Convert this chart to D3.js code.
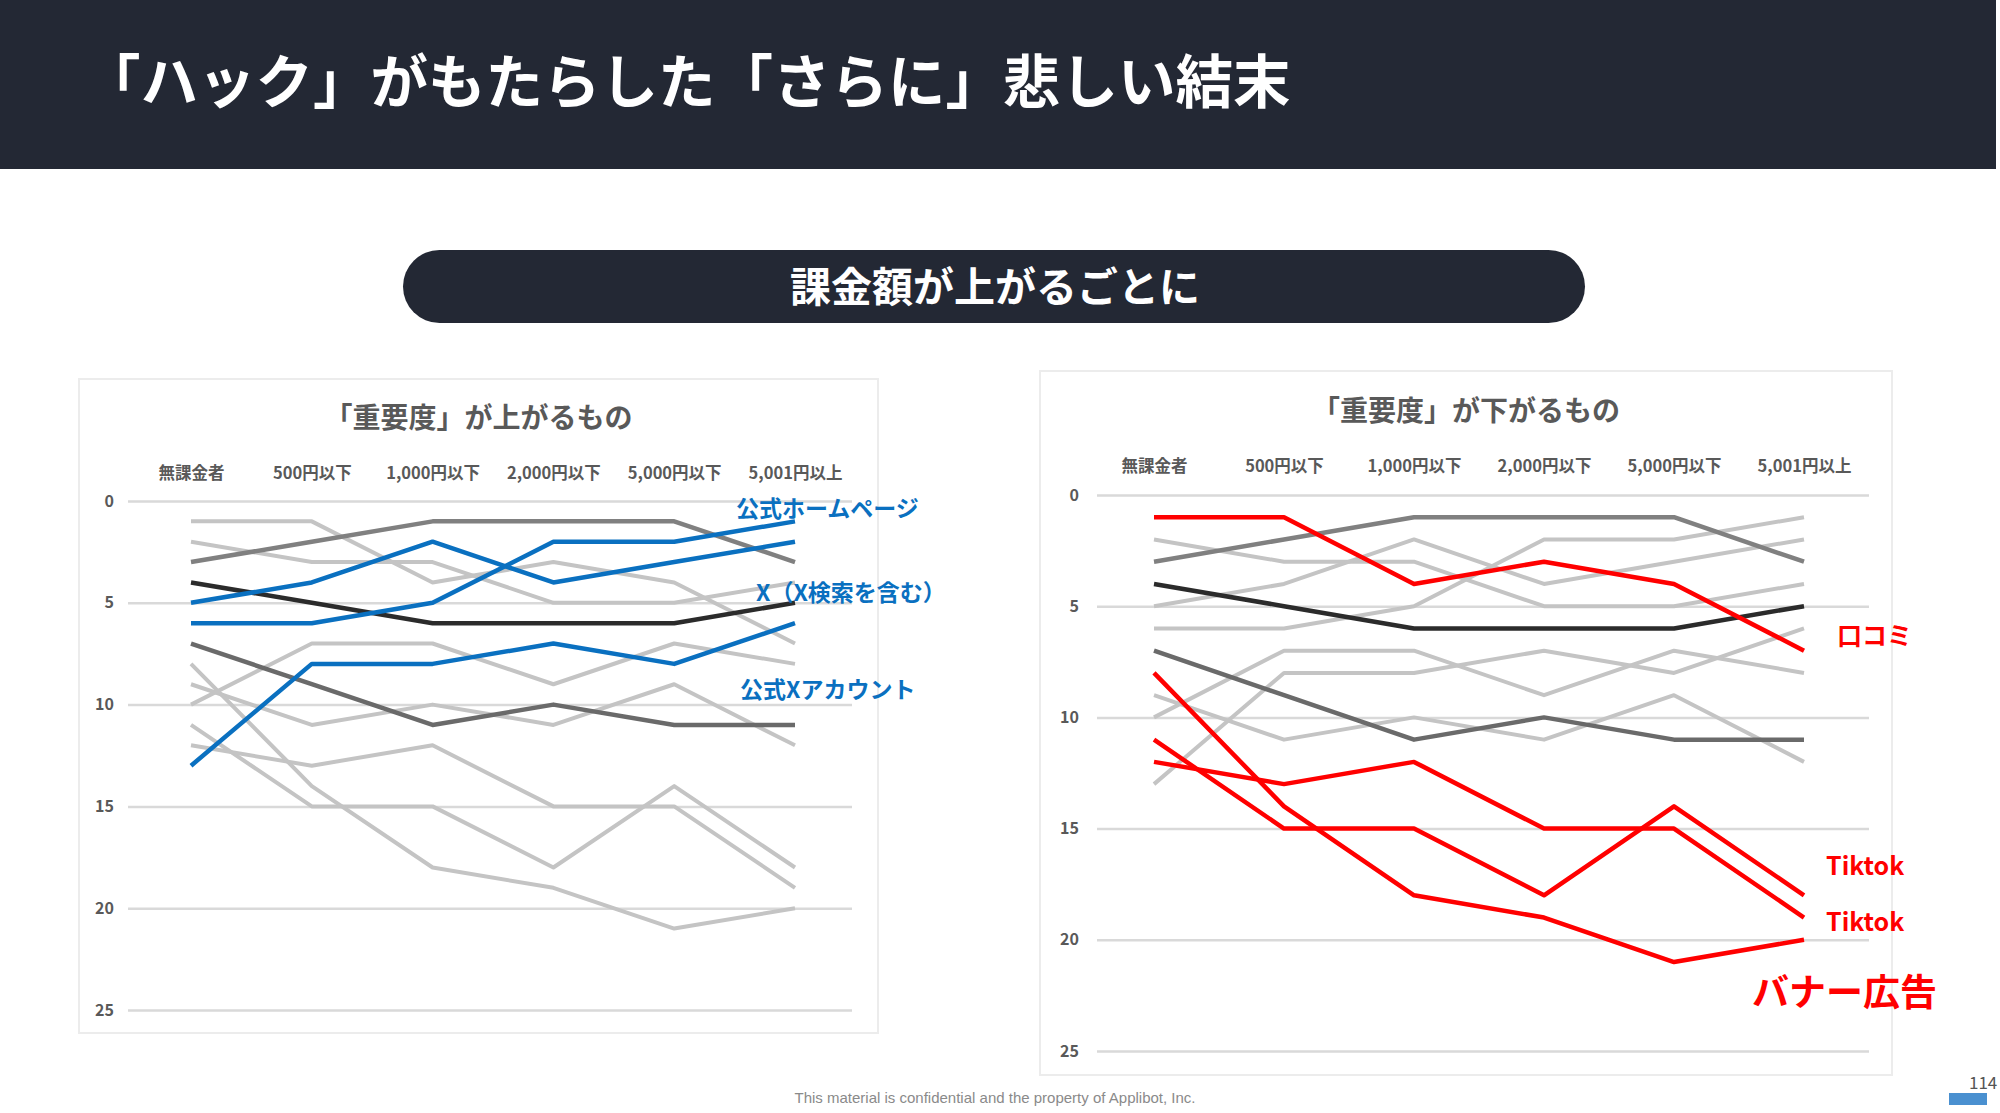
<!DOCTYPE html>
<html><head><meta charset="utf-8">
<script src="https://cdn.jsdelivr.net/npm/d3@7"></script>
<style>
html,body{margin:0;padding:0;background:#fff;overflow:hidden;}
svg{display:block;font-family:"Noto Sans CJK JP","Noto Sans",sans-serif;}
</style></head>
<body><svg id="c" width="2000" height="1113"></svg>
<script>
// ---- data ----
const categories = ["無課金者","500円以下","1,000円以下","2,000円以下","5,000円以下","5,001円以上"];
const yTicks = [0,5,10,15,20,25];
const sHomepage  = [6,6,5,2,2,1];      // 公式ホームページ
const sXSearch   = [5,4,2,4,3,2];      // X（X検索を含む）
const sXAccount  = [13,8,8,7,8,6];     // 公式Xアカウント
const sKuchikomi = [1,1,4,3,4,7];      // 口コミ
const sTiktokA   = [11,15,15,18,14,18];// Tiktok
const sTiktokB   = [12,13,12,15,15,19];// Tiktok
const sBanner    = [8,14,18,19,21,20]; // バナー広告
const sDarkA     = [3,2,1,1,1,3];
const sDarkB     = [4,5,6,6,6,5];
const sDarkC     = [7,9,11,10,11,11];
const sGrayA     = [2,3,3,5,5,4];
const sGrayB     = [9,11,10,11,9,12];
const sGrayC     = [10,7,7,9,7,8];

const mainTitle = "「ハック」がもたらした「さらに」悲しい結末";
const pillText = "課金額が上がるごとに";
const leftTitle = "「重要度」が上がるもの";
const rightTitle = "「重要度」が下がるもの";
const footer = "This material is confidential and the property of Applibot, Inc.";
const pageNo = "114";

// ---- styles ----
const C_LIGHT="#c4c4c4", C_BLUE="#0a70c0", C_RED="#ff0000";
const darkStyles = [
  {vals:sDarkA, color:"#808080"},
  {vals:sDarkB, color:"#2b2b2b"},
  {vals:sDarkC, color:"#6a6a6a"}
];
const lightVals = [sGrayA, sGrayB, sGrayC];
const blueVals = [sHomepage, sXSearch, sXAccount];
const redVals = [sKuchikomi, sTiktokA, sTiktokB, sBanner];

const svg = d3.select("#c");
const NAVY = "#232834";

// header
svg.append("rect").attr("x",0).attr("y",0).attr("width",1996).attr("height",169).attr("fill",NAVY);
svg.append("text").attr("x",83).attr("y",78).attr("dominant-baseline","central")
  .attr("fill","#fff").attr("font-size",57.5).attr("font-weight",700).text(mainTitle);

// pill
svg.append("rect").attr("x",403).attr("y",250).attr("width",1182).attr("height",73).attr("rx",36.5)
  .attr("fill",NAVY);
svg.append("text").attr("x",995).attr("y",284).attr("text-anchor","middle").attr("dominant-baseline","central")
  .attr("fill","#fff").attr("font-size",41).attr("font-weight",700).text(pillText);

function chart(cfg){
  const g = svg.append("g");
  g.append("rect").attr("x",cfg.box[0]).attr("y",cfg.box[1]).attr("width",cfg.box[2]).attr("height",cfg.box[3])
    .attr("fill","#fff").attr("stroke","#ececec").attr("stroke-width",2);
  g.append("text").attr("x",cfg.box[0]+cfg.box[2]/2).attr("y",cfg.titleY).attr("text-anchor","middle")
    .attr("dominant-baseline","central").attr("font-size",28).attr("font-weight",700).attr("fill","#595959").text(cfg.title);
  const x = d3.scalePoint().domain(categories).range(cfg.xr);
  const y = d3.scaleLinear().domain([0,25]).range(cfg.yr);
  // grid + y labels
  const ya = d3.axisLeft(y).tickValues(yTicks).tickSize(-(cfg.gx[1]-cfg.gx[0])).tickPadding(cfg.pad);
  const yg = g.append("g").attr("transform",`translate(${cfg.gx[0]},0)`).call(ya);
  yg.select(".domain").remove();
  yg.selectAll(".tick line").attr("stroke","#d9d9d9").attr("stroke-width",2.5);
  yg.selectAll(".tick text").attr("font-size",16).attr("font-weight",700).attr("fill","#595959")
    .attr("font-family","'Noto Sans CJK JP',sans-serif");
  // category labels
  const xa = d3.axisTop(x).tickSize(0).tickPadding(0);
  const xg = g.append("g").attr("transform",`translate(0,${cfg.catY})`).call(xa);
  xg.select(".domain").remove();
  xg.selectAll(".tick text").attr("font-size",16.5).attr("font-weight",700).attr("fill","#595959")
    .attr("font-family","'Noto Sans CJK JP',sans-serif").attr("dy","0.35em").attr("y",0);
  const line = d3.line().x((d,i)=>x(categories[i])).y(d=>y(d));
  const draw = (vals,color,w)=>g.append("path").attr("d",line(vals)).attr("fill","none")
    .attr("stroke",color).attr("stroke-width",w).attr("stroke-linejoin","round");
  cfg.lights.forEach(v=>draw(v,C_LIGHT,4));
  darkStyles.forEach(s=>draw(s.vals,s.color,4.5));
  cfg.highlights.forEach(v=>draw(v,cfg.hcolor,4.5));
  cfg.labels.forEach(l=>g.append("text").attr("x",l.x).attr("y",l.y).attr("dominant-baseline","central")
    .attr("font-size",l.fs).attr("font-weight",700).attr("fill",cfg.hcolor).text(l.t));
}

chart({
  box:[79,379,799,654], title:leftTitle, titleY:416, catY:473,
  xr:[191,795], yr:[501,1010], gx:[128,852], pad:14,
  lights:[...lightVals, ...redVals], highlights:blueVals, hcolor:C_BLUE,
  labels:[{t:"公式ホームページ",x:736,y:507,fs:23},{t:"X（X検索を含む）",x:756,y:591,fs:23},{t:"公式Xアカウント",x:740,y:688,fs:23}]
});
chart({
  box:[1040,371,852,704], title:rightTitle, titleY:409, catY:466,
  xr:[1154,1804], yr:[495,1051], gx:[1097,1869], pad:18,
  lights:[...lightVals, ...blueVals], highlights:redVals, hcolor:C_RED,
  labels:[{t:"口コミ",x:1837,y:634,fs:25},{t:"Tiktok",x:1826,y:864,fs:25},{t:"Tiktok",x:1826,y:920,fs:25},{t:"バナー広告",x:1752,y:990,fs:37}]
});

// footer
svg.append("text").attr("x",995).attr("y",1097).attr("text-anchor","middle").attr("dominant-baseline","central")
  .attr("font-size",15).attr("fill","#8a8a8a").attr("font-family","'Liberation Sans Narrow','Liberation Sans',sans-serif").text(footer);
svg.append("text").attr("x",1969).attr("y",1081).attr("dominant-baseline","central")
  .attr("font-size",17).attr("fill","#555").text(pageNo);
svg.append("rect").attr("x",1949).attr("y",1093).attr("width",38).attr("height",12).attr("fill","#4a90d0");
</script></body></html>
